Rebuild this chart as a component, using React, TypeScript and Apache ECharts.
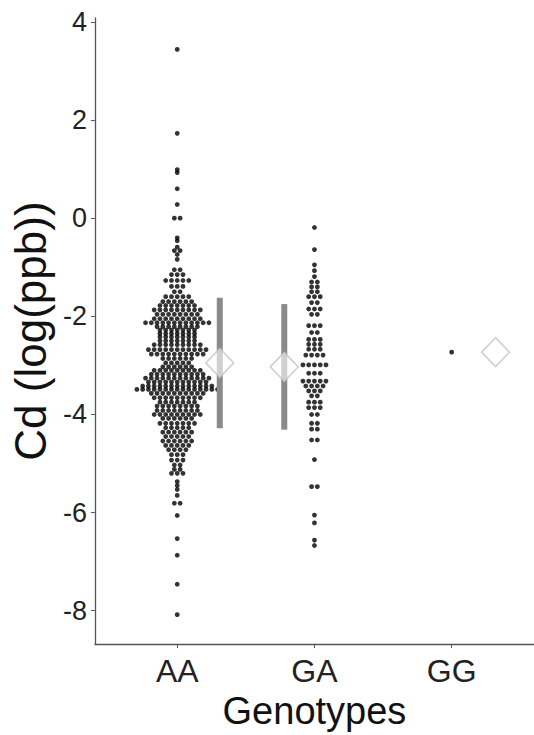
import React, { useEffect, useRef } from "react";
import * as echarts from "echarts";

const CATEGORIES = ["AA", "GA", "GG"];
const Y_TICKS = [-8, -6, -4, -2, 0, 2, 4];

// Dot-plot bins: y value of the bin and number of dots stacked in it
const AA_BIN_Y = [
  3.44, 1.73, 0.99, 0.93, 0.6, 0.28, 0.0, -0.4, -0.46, -0.59, -0.66, -0.74, -0.84,
  -1.05, -1.15, -1.27, -1.39, -1.5, -1.6, -1.7, -1.78, -1.87, -1.96, -2.05, -2.13,
  -2.21, -2.28, -2.35, -2.42, -2.5, -2.58, -2.68, -2.77, -2.86, -2.95, -3.03, -3.1,
  -3.18, -3.26, -3.34, -3.42, -3.49, -3.57, -3.66, -3.75, -3.83, -3.92, -4.0, -4.08,
  -4.18, -4.27, -4.36, -4.45, -4.54, -4.63, -4.72, -4.82, -4.93, -5.03, -5.12, -5.2,
  -5.37, -5.45, -5.53, -5.65, -5.81, -6.06, -6.53, -6.87, -7.46, -8.08,
];
const AA_BIN_N = [
  1, 1, 1, 1, 1, 1, 2, 1, 1, 1, 2, 1, 1,
  2, 3, 5, 3, 2, 5, 6, 7, 9, 8, 9, 12,
  8, 7, 7, 7, 7, 9, 11, 10, 6, 5, 6, 9,
  10, 12, 11, 13, 15, 10, 9, 7, 8, 8, 9, 6,
  7, 5, 6, 5, 6, 5, 4, 3, 3, 2, 2, 3,
  1, 1, 1, 1, 2, 1, 1, 1, 1, 1,
];

const GA_BIN_Y = [
  -0.19, -0.64, -0.95, -1.07, -1.19, -1.3, -1.4, -1.5, -1.6, -1.72, -1.85, -1.96,
  -2.19, -2.33, -2.47, -2.57, -2.67, -2.79, -2.99, -3.16, -3.32, -3.42, -3.52, -3.62,
  -3.75, -3.86, -4.0, -4.18, -4.3, -4.52, -4.92, -5.47, -6.05, -6.21, -6.56, -6.67,
];
const GA_BIN_N = [
  1, 1, 1, 1, 1, 2, 2, 2, 3, 2, 3, 2,
  3, 2, 3, 3, 3, 4, 5, 3, 5, 4, 3, 2,
  3, 3, 2, 2, 2, 2, 1, 2, 1, 1, 1, 1,
];

const GG_BIN_Y = [-2.73];
const GG_BIN_N = [1];

// Summary: mean and standard deviation per genotype
const MEANS = [-2.95, -3.03, -2.73];
const SDS = [1.33, 1.28, 0];

// layout constants (x axis units)
const DOT_STEP = 0.042;
const SUMMARY_OFFSET = [0.31, -0.22, 0.32];

function buildDots(center: number, ys: number[], ns: number[]) {
  const pts: number[][] = [];
  ys.forEach((y, k) => {
    const n = ns[k];
    for (let i = 0; i < n; i++) {
      pts.push([center + (i - (n - 1) / 2) * DOT_STEP, y]);
    }
  });
  return pts;
}

const FONT = "'Liberation Sans', Arial, Helvetica, sans-serif";

export default function App() {
  const ref = useRef<HTMLDivElement>(null);
  useEffect(() => {
    if (!ref.current) return;
    const chart = echarts.init(ref.current, undefined, { renderer: "svg" });
    const dots = [
      ...buildDots(1, AA_BIN_Y, AA_BIN_N),
      ...buildDots(2, GA_BIN_Y, GA_BIN_N),
      ...buildDots(3, GG_BIN_Y, GG_BIN_N),
    ];
    const bars = MEANS.map((m, i) => [i + 1 + SUMMARY_OFFSET[i], m - SDS[i], m + SDS[i]]).filter(
      (d, i) => SDS[i] > 0
    );
    const diamonds = MEANS.map((m, i) => [i + 1 + SUMMARY_OFFSET[i], m]);
    chart.setOption({
      animation: false,
      backgroundColor: "#ffffff",
      grid: { left: 87, right: -2, top: 18, bottom: 76, containLabel: false },
      xAxis: {
        type: "value",
        min: 0.4,
        max: 3.6,
        name: "Genotypes",
        nameLocation: "middle",
        nameGap: 33,
        nameTextStyle: { fontSize: 38, color: "#111", fontFamily: FONT },
        axisLine: { onZero: false, lineStyle: { color: "#555", width: 1.3 } },
        axisTick: { show: true, length: 4, customValues: [1, 2, 3], lineStyle: { color: "#555" } },
        axisLabel: {
          customValues: [1, 2, 3],
          formatter: (v: number) => CATEGORIES[Math.round(v) - 1] ?? "",
          fontSize: 32,
          color: "#222",
          margin: 11,
          fontFamily: FONT,
        },
        splitLine: { show: false },
      },
      yAxis: {
        type: "value",
        min: -8.68,
        max: 4.08,
        name: "Cd (log(ppb))",
        nameLocation: "middle",
        nameGap: 38,
        nameTextStyle: { fontSize: 44, color: "#111", fontFamily: FONT },
        axisLine: { show: true, onZero: false, lineStyle: { color: "#555", width: 1.3 } },
        axisTick: { show: true, length: 4, customValues: Y_TICKS, lineStyle: { color: "#555" } },
        axisLabel: {
          customValues: Y_TICKS,
          fontSize: 27,
          color: "#222",
          margin: 8,
          fontFamily: FONT,
        },
        splitLine: { show: false },
      },
      series: [
        {
          type: "scatter",
          data: dots,
          symbol: "circle",
          symbolSize: 4.8,
          itemStyle: { color: "#000" },
          z: 2,
          silent: true,
        },
        {
          type: "custom",
          data: bars,
          encode: { x: 0, y: [1, 2] },
          z: 3,
          renderItem: (params: any, api: any) => {
            const x = api.value(0);
            const lo = api.value(1);
            const hi = api.value(2);
            const p1 = api.coord([x, hi]);
            const p2 = api.coord([x, lo]);
            return {
              type: "rect",
              shape: { x: p1[0] - 3, y: p1[1], width: 6, height: p2[1] - p1[1] },
              style: { fill: "#8a8a8a" },
            };
          },
        },
        {
          type: "scatter",
          data: diamonds,
          symbol: "diamond",
          symbolSize: [28, 29],
          itemStyle: { color: "rgba(255,255,255,0.75)", borderColor: "#c4c4c4", borderWidth: 1.6 },
          z: 4,
          silent: true,
        },
      ],
    });
    return () => chart.dispose();
  }, []);
  return (
    <div
      ref={ref}
      style={{ position: "fixed", left: 0, top: 0, width: 534, height: 735, background: "#fff" }}
    />
  );
}
